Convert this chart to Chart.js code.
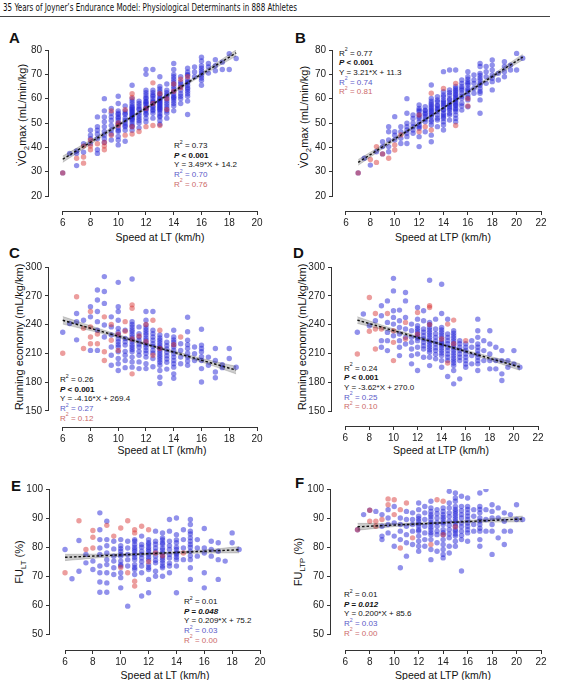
<!DOCTYPE html>
<html>
<head>
<meta charset="utf-8">
<script src="https://cdn.jsdelivr.net/npm/chart.js@4.4.1/dist/chart.umd.min.js"></script>
<style>
  body { margin: 0; background: #fff; }
  #page { position: relative; width: 565px; height: 680px; overflow: hidden; font-family: 'Liberation Sans', Arial, sans-serif; color: #111; }
  canvas { position: absolute; }
  #title { position: absolute; left: 3px; top: 2px; font-family: 'Liberation Sans Narrow', 'DejaVu Sans Condensed', sans-serif; font-size: 10px; white-space: nowrap; transform-origin: 0 0; }
  #rule { position: absolute; left: 0; top: 16px; width: 550px; height: 1px; background: #444; }
  .lbl { position: absolute; font-weight: bold; font-size: 15px; line-height: 15px; }
  .yt { position: absolute; font-size: 11px; white-space: nowrap; transform: translate(-50%, -50%) rotate(-90deg); }
  .xt { position: absolute; font-size: 10.5px; white-space: nowrap; transform: translate(-50%, -50%); }
  .st { position: absolute; font-size: 8px; line-height: 9.7px; white-space: nowrap; }
  .st .b { color: #5a5ac8; }
  .st .r { color: #cc6a6a; }
  sup { font-size: 65%; line-height: 0; position: relative; top: -0.15em; vertical-align: super; }
  sub { font-size: 70%; line-height: 0; }
</style>
</head>
<body>
<div id="page">
  <div id="title">35 Years of Joyner’s Endurance Model: Physiological Determinants in 888 Athletes</div>
  <div id="rule"></div>

  <div class="lbl" style="left:9px;top:30px">A</div>
  <div class="lbl" style="left:295px;top:30px">B</div>
  <div class="lbl" style="left:9px;top:245px">C</div>
  <div class="lbl" style="left:293px;top:245px">D</div>
  <div class="lbl" style="left:11px;top:478px">E</div>
  <div class="lbl" style="left:295px;top:475px">F</div>

  <div class="yt" style="left:22px;top:115px">V&#775;O<sub>2</sub>max (mL/min/kg)</div>
  <div class="yt" style="left:304px;top:117px">V&#775;O<sub>2</sub>max (mL/min/kg)</div>
  <div class="yt" style="left:19px;top:337px">Running economy (mL/kg/km)</div>
  <div class="yt" style="left:302px;top:337px">Running economy (mL/kg/km)</div>
  <div class="yt" style="left:19px;top:562px">FU<sub>LT</sub> (%)</div>
  <div class="yt" style="left:298px;top:562px">FU<sub>LTP</sub> (%)</div>

  <div class="xt" style="left:160px;top:237px">Speed at LT (km/h)</div>
  <div class="xt" style="left:443px;top:237px">Speed at LTP (km/h)</div>
  <div class="xt" style="left:162px;top:450px">Speed at LT (km/h)</div>
  <div class="xt" style="left:441px;top:450px">Speed at LTP (km/h)</div>
  <div class="xt" style="left:165px;top:675px">Speed at LT (km/h)</div>
  <div class="xt" style="left:443px;top:675px">Speed at LTP (km/h)</div>

  <div class="st" style="left:174px;top:141px">R<sup>2</sup> = 0.73<br><b><i>P</i> &lt; 0.001</b><br>Y = 3.49*X + 14.2<br><span class="b">R<sup>2</sup> = 0.70</span><br><span class="r">R<sup>2</sup> = 0.76</span></div>
  <div class="st" style="left:339px;top:48.5px">R<sup>2</sup> = 0.77<br><b><i>P</i> &lt; 0.001</b><br>Y = 3.21*X + 11.3<br><span class="b">R<sup>2</sup> = 0.74</span><br><span class="r">R<sup>2</sup> = 0.81</span></div>
  <div class="st" style="left:60px;top:375px">R<sup>2</sup> = 0.26<br><b><i>P</i> &lt; 0.001</b><br>Y = -4.16*X + 269.4<br><span class="b">R<sup>2</sup> = 0.27</span><br><span class="r">R<sup>2</sup> = 0.12</span></div>
  <div class="st" style="left:344px;top:363.5px">R<sup>2</sup> = 0.24<br><b><i>P</i> &lt; 0.001</b><br>Y = -3.62*X + 270.0<br><span class="b">R<sup>2</sup> = 0.25</span><br><span class="r">R<sup>2</sup> = 0.10</span></div>
  <div class="st" style="left:184px;top:597px">R<sup>2</sup> = 0.01<br><b><i>P = 0.048</i></b><br>Y = 0.209*X + 75.2<br><span class="b">R<sup>2</sup> = 0.03</span><br><span class="r">R<sup>2</sup> = 0.00</span></div>
  <div class="st" style="left:344px;top:590px">R<sup>2</sup> = 0.01<br><b><i>P = 0.012</i></b><br>Y = 0.200*X + 85.6<br><span class="b">R<sup>2</sup> = 0.03</span><br><span class="r">R<sup>2</sup> = 0.00</span></div>
</div>

<script>
// tick values
const xTicksLT = [6, 8, 10, 12, 14, 16, 18, 20];
const xTicksLTP = [6, 8, 10, 12, 14, 16, 18, 20, 22];
const yTicksVO2 = [20, 30, 40, 50, 60, 70, 80];
const yTicksRE = [150, 180, 210, 240, 270, 300];
const yTicksFU = [50, 60, 70, 80, 90, 100];

// scatter data as [speed, [values...]] columns
// (dense columns carry extra readings for the overlapping dark cores)
const aBlue = [[6,[29.5]],[6.5,[37.5]],[7,[32.5,37.5,38.5]],[7.5,[38,41.5]],[8,[41.5,43.5,45,47]],
  [8.5,[37.5,39,43.5,45.5,47,48.5,52.5]],[9,[42,43.5,45,46.5,48.5,50.5,52.5,55,60]],
  [9.5,[43,45.5,47,49,51,52.5,54,56]],[10,[41,43,44.5,46.5,47,48,49.5,50,51,52,52.5,53.5,54,55,58,61]],
  [10.5,[42.5,47,48.5,49,50,51,52,53.5,54,55,57]],
  [11,[47,48.5,49,50,51,51.5,52,52.5,53,53.5,54,54.5,55,55.5,56,56.5,57,58,59,60,65.5]],
  [11.5,[48,50,51,52,53,54,55.5,56,57,58,59]],
  [12,[50.5,52,53.5,54,55,55.5,56,56.5,57.5,58,58.5,59,60,60.5,61.5,62.5,63.5,70,72]],
  [12.5,[52,54,55,55.5,56.5,57,58,58.5,59,60,61,61.5,62.5,63.5,72]],
  [13,[49.5,51,52.5,53,54,55,55.5,56,56.5,57,57.5,58,58.5,59,59.5,60,60.5,61.5,62,63,64,65,69]],
  [13.5,[52,54,55,56,57,58,59,60,61,61.5,62.5,63.5,66]],
  [14,[55,57,58,59,60,60.5,61,62,63,64,65,66,67,68,69,70,72,74.5]],
  [14.5,[58,60,61,62,63.5,65,66,67,69]],[15,[53.5,59,61,62,63,64,64.5,65.5,66.5,67,68,69.5,70,71,72.5]],
  [15.5,[69,71,73]],[16,[65.5,67.5,68.5,69.5,70.5,71.5,72.5,73.5,75.5,77]],[16.5,[70.5,73,74.5]],
  [17,[71.5,73.5,76]],[17.5,[75,72]],[18,[78.5,72]],[18.5,[76.5]]];
const aRed = [[6,[29.5]],[7,[35.5]],[7.5,[33.5,36,40.5]],[8,[39,40.5,43]],[8.5,[41.5]],[9,[39,40.5,42]],
  [9.5,[45,55]],[10,[49,50]],[10.5,[45,55.5]],[11,[45.5,48.5,60.5,62]],[11.5,[46.5]],[12,[48.5,56]],
  [12.5,[49,58,66.5]],[13,[49,62]],[13.5,[55.5,60]],[14,[63,66]],[14.5,[64.5,68]],[15,[69]]];

const bBlue = [[7,[29.5]],[7.5,[35.5]],[8,[32.7]],[8.5,[38.2]],[9,[37.3,40.3,42.3]],[9.5,[38.2,40.3,43,46.4,48.5]],
  [10,[43,45,46.4,52.6]],[10.5,[41.6,43.7,46.4,48.5]],[11,[41.6,44.4,45.8,47.1,48.5,49.9,54,60]],
  [11.5,[45.8,47.1,48.5,49.9,51.9,53.3]],[12,[40.3,44.4,47.8,48.5,49.2,50.5,51.9,52.6,53.5,54.7,55.3,56,57.4]],
  [12.5,[46.4,50.5,51.5,52.6,53.5,54,55,55.3,56.7]],
  [13,[42.3,45,49.2,50.5,51.2,52.6,53.3,54,54.7,55.3,56,56.7,57.4,58.1,59,60.1,65.6]],
  [13.5,[48.5,51.2,52,53.3,54.7,55.5,56,57,57.4,58.8,59.5,60.8]],
  [14,[47.1,49.2,50.5,51.9,52.6,53.3,54,55.3,55.5,56.7,57.4,58.1,58.8,59.5,60.8,61.5,62.9,71.1]],
  [14.5,[51.2,53.3,54,55.3,56,56.7,57.5,58.1,59.5,60,61.5,62.5,63.6,71.8]],
  [15,[50.5,51.9,53.3,54.7,55.5,56,57,57.4,58,58.8,59.5,60.1,60.8,61.5,62,62.9,63.5,64.2,65,71.8]],
  [15.5,[55.3,57,58.1,60.1,61,62.2,63.5,64.2,65,66.3,67.7]],[16,[56.7,59.5,60.5,61.5,62.9,63.6,64.2,65.6,66.3,67,68,69,71.1]],
  [16.5,[62.2,64.2,66.3,67.7,69.7]],[17,[54,59.5,62.2,63,64.2,65.5,66.3,67.5,68.4,69.5,70.4,73.2,74.5]],[17.5,[66.3,69,71.1,73.2]],
  [18,[63.6,67,68.4,69.7,71.8,73.8,75.9]],[18.5,[67.7,70.4]],[19,[69,71.1,73.2,75.2]],[19.5,[71.8,73.8]],
  [20,[71.8,78.6]],[20.5,[76.6]]];
const bRed = [[7,[29.5]],[8,[35]],[8.5,[33.8,40.3]],[9,[37.3]],[9.5,[35.5]],[10,[38.9,41]],[10.5,[45.1]],
  [12,[46.4,53.3]],[12.5,[48.5]],[13,[47.1,62.2]],[14,[64.2]],[15,[49,66.3]],[16,[57,60]]];

const cBlue = [[6,[232]],[6.5,[241]],[7,[251.5,243,224]],[7.5,[244.5]],[8,[258.5,248,213]],
  [8.5,[276,265.5,253.5,243,234,213]],[9,[290,274.5,262,239.5,227]],[9.5,[248,237.5,229,216.5,208,197.5]],
  [10,[284,258.5,253.5,244.5,236,232,229,225,222,219,216.5,211.5,204.5,199,192]],[10.5,[234,225.5,222,218.5,212,208,202.5,195]],
  [11,[287.5,243,240,237.5,234.5,232.5,229.5,227,224.5,222,219,216.5,214,211.5,206,201,195.5]],
  [11.5,[237.5,230.5,227,223.5,219.5,216.5,212,208,201,194]],
  [12,[253.5,244.5,239.5,236.5,234,231.5,229,226,223.5,221,218.5,216,213,210,206,199,194]],
  [12.5,[253.5,234,230.5,227,223.5,220,217,213,210,204.5,196]],
  [13,[229,226,223.5,221,218.5,216,215.5,213,210.5,208,205.5,203,200.5,197.5,192,185,178.5]],
  [13.5,[228.5,221.5,218,214.5,211,207.5,204,200.5,193.5]],
  [14,[234,227,224,221.5,219,216.5,213,209.5,206,202.5,199,195.5,188.5,184]],[14.5,[220,213,206,199]],
  [15,[247.5,232.5,223.5,219,215,210,206,202,197.5]],[15.5,[216.5,209.5,202.5]],[16,[235,218.5,215,211.5,206.5,202.5,194,180]],
  [16.5,[206,197.5]],[17,[215,202.5,190.5,184.5]],[17.5,[198,195]],[18,[215,204.5]],[18.5,[195.5]]];
const cRed = [[6,[210]],[7,[269]],[7.5,[236,215]],[8,[253.5,237.5,227,220]],[8.5,[220,230]],[9,[248,211.5,202.5]],
  [9.5,[223.5,240]],[10,[213,230]],[10.5,[243,233]],[11,[260.5,257,225,188.5]],[11.5,[228]],[12,[222,240]],
  [12.5,[244.5,208]],[13,[234,215]],[14,[219]],[14.5,[227]]];

const dBlue = [[7,[232]],[7.5,[251]],[8,[238.8]],[8.5,[244]],[9,[259.6,249.2,223.3,216.4]],
  [9.5,[264.7,242.3,231.9,223.3,212.9]],[10,[288.2,275.1,254.4,247.5,240.5,228.4]],
  [10.5,[255.1,244,237.1,230.2,223.3,216.4,207.7]],[11,[273.4,264.7,247.5,235.4,226.7,219.8]],
  [11.5,[240.5,233.6,226.7,221.5,214.6,207.7,199.1]],
  [12,[257.8,245.7,238.8,236,233.6,231,228.4,226,223.3,216.4,209.4,192.2]],
  [12.5,[254.4,244,235.4,232,228.4,225,221.5,218,214.6,206]],
  [13,[286.2,242.3,240,237.1,234.5,231.9,229.3,226.7,224,221.5,219,216.4,213.8,211.2,206,197.3]],
  [13.5,[245.7,235.4,230.5,226.7,223,219.8,216,212.9,209,204.3]],
  [14,[282,251.6,237.1,234.5,231.9,229.3,226.7,224,221.5,220,218.1,215.5,212.9,210.3,207.7,202.5,195.6]],
  [14.5,[245.7,230.2,226.7,223.3,220,216.4,213,209.4,206,202.5,185.9]],
  [15,[233.6,231,228.4,225.8,223.3,220.6,218.1,215.5,212.9,210.3,207.7,205,202.5,200,197.3,192.2,178.3]],
  [15.5,[223.3,220,216.4,213,209.4,206,202.5,183.5]],[16,[220,216.4,213,209.4,206,202.5,199,195.6]],[16.5,[223.3,216.4,207.7,199.1]],
  [17,[245.7,233.6,226.7,219.8,216.4,212.9,209.4,206,202.5,199.1,192.2]],[17.5,[223.3,212.9,202.5]],
  [18,[233.6,219.8,209.4,202.5,193.9]],[18.5,[216.4,202.5,193.9]],[19,[212.9,202.5,188.7,181.8]],
  [19.5,[202.5,195.6]],[20,[212.9,199.1]],[20.5,[195.6]]];
const dRed = [[7,[209.4]],[8,[268.2,233]],[8.5,[251.6,235.4,214.6]],[9,[235.4]],[9.5,[251.6]],[10,[233.6,221.5,202.5]],
  [11,[242.3,225]],[12,[252.6,230]],[13,[259.6,257.8,240]],[14,[225]],[14.5,[240.5,200]],[15,[244.7,220]],[16,[223.3]]];

const eBlue = [[6,[79.2]],[6.5,[69.1]],[7,[82.3,71.7]],[7.5,[77.5,74.6]],[8,[75.2,72.3]],
  [8.5,[91.8,86,82.6,79.7,77.5,73.5,71.2,68,64.5]],[9,[88.9,82.6,80.5,78,75.7,74,71.2,67.7,64.5]],
  [9.5,[82,79.4,76.9,75.2,72.9,70.6]],[10,[82.6,80.5,79.5,78.6,77.5,76.9,75.2,74,73.5,71.2,69.5,66]],
  [10.5,[82,79.7,77.5,75.7,73.5,59.7]],[11,[82.6,82,80.9,80,79.2,78.5,77.5,76.5,75.7,74,73,72.3,70.6]],
  [11.5,[83.8,80.9,80,78.6,77.5,76.3,75,73.5,71.2,63.2]],
  [12,[82.6,81.5,80.9,80,79.2,78.5,77.5,76.5,75.7,74,73,72.3,68.9,64.3]],
  [12.5,[85.5,82,81,79.7,78.5,76.9,75.5,74.6,71.7,70]],
  [13,[84.9,83.2,82.5,81.5,81,79.7,79,78,77,76.3,75.5,74.6,73.5,72.9,70]],
  [13.5,[89.5,85.5,82,80.5,79.2,77.5,76.3,74.5,73.5,71.2]],
  [14,[90,84.3,82.5,81.5,80,79.2,78,77.5,76.5,75.7,73.5,64.3]],
  [14.5,[86,82.6,79.7,75.7]],[15,[89.5,87.8,85.5,84.5,83.2,82,80.9,80,78.6,77,75.7,72.9,68.9]],[15.5,[82.6,79.7,76.9]],
  [16,[86.4,79.7,78,71.2,66]],[16.5,[82,79.2,76.9]],[17,[81.5,78.6,75.7,68.9]],[17.5,[75.2]],
  [18,[84.9,81.5]],[18.5,[79.2]]];
const eRed = [[6,[71.2]],[7,[89.1]],[7.5,[79.2]],[8,[85.7,83.4,79.7]],[9,[87.5]],[9.5,[83.8]],[10,[86.6,73]],
  [10.5,[89.1,71.2]],[11,[86,84.9,68.3,66.6]],[11.5,[87.2]],[12,[86,75]],[12.5,[78]],[13,[77]],[14.5,[78]]];

const fBlue = [[7,[86]],[7.5,[91.2]],[8,[92.7]],[8.5,[92.3]],[9,[91.2,87.2,83.8,82.6]],[9.5,[92.9,90,87.8,84.9]],
  [10,[94,88.3,83.8,80.3]],[10.5,[90,87.8,85.5,82.6,72.9]],[11,[92.3,89.5,87.2,84.3,81.5,76.9]],
  [11.5,[91.8,89.5,87.8,85.5,80.9]],[12,[95.2,92.9,90.6,89.8,88.9,88,87.2,86,85.5,83.8,82,80.3,78.6]],
  [12.5,[94,91.8,89.5,87.2,84.9,82.6,80.3]],
  [13,[95.8,93.5,92.3,91.2,90.5,89.5,88.5,87.8,86.8,86,85,84.3,82.6,79.2,75.7]],
  [13.5,[92.9,91.5,90,88.5,87.2,85.5,84.3,81.5,78.6]],
  [14,[93.5,92.3,91.2,90.3,89.5,88.5,87.8,86,85,84.3,82.6,80.9,79.2,77.5,76.3]],
  [14.5,[99.2,95.2,93.5,91.8,90.5,88.9,87.5,86,84.5,83.2,80.3,78]],
  [15,[98.6,96.9,95.8,94,93,92.3,91.5,90.6,89.8,88.9,88,87.2,86,85.5,84.5,83.8,82,80.3]],
  [15.5,[97.5,94,92.5,91.2,90,88.3,87,85.5,84,82.6,71.8]],[16,[96.9,94,93,91.8,90.6,89.5,88.3,87.2,86,84.9,82]],
  [16.5,[92.9,90.6,87.8,85.5]],[17,[98.6,94,93,91.8,90,89,87.8,86.5,85.5,82.6,80.3]],[17.5,[99.8,92.9,89.5,85.5]],
  [18,[94.6,92.3,90,87.8,85.5,77.5]],[18.5,[93.5,90,83.2]],[19,[91.8,88.9,85.5,80.9]],[19.5,[91.2,85.5]],
  [20,[94.6,89.5]],[20.5,[89.5]]];
const fRed = [[7,[86]],[8,[92.7,88.9]],[8.5,[88.9,87.2]],[9,[89.5]],[9.5,[96.6,94.6]],[10,[96.3,91.2]],
  [10.5,[92.9,79.7]],[11,[95.2]],[11.5,[83.2]],[13,[80.9]],[13.5,[96.3]],[14,[95.8,84.3]],[15,[87]]];

// fitted lines [x, y] and 95% bands [x, lower, upper]
const lineA = [[6, 35.1], [18.5, 78.8]];
const lineB = [[7, 33.8], [20.5, 77.1]];
const lineC = [[6, 244.4], [18.5, 192.4]];
const lineD = [[7, 244.7], [20.5, 195.8]];
const lineE = [[6, 76.5], [18.5, 79.1]];
const lineF = [[7, 87.0], [20.5, 89.7]];
const bandA = [[6, 33.8, 36.4], [9, 44.9, 46.3], [12.5, 57.35, 58.25], [16, 69.3, 70.7], [18.5, 77.5, 80.1]];
const bandB = [[7, 32.6, 35.0], [10, 42.75, 44.05], [14, 55.8, 56.6], [17.5, 66.85, 68.15], [20.5, 75.9, 78.3]];
const bandC = [[6, 240.4, 248.4], [9, 230, 234], [12.5, 216.2, 218.6], [16, 200.8, 204.8], [18.5, 188.4, 196.4]];
const bandD = [[7, 241.2, 248.2], [10, 232, 235.6], [14, 218.2, 220.4], [17.5, 204.9, 208.5], [20.5, 192.3, 199.3]];
const bandE = [[6, 75.35, 77.55], [9, 76.55, 77.65], [12.5, 77.45, 78.15], [16, 77.95, 79.05], [18.5, 78.0, 80.2]];
const bandF = [[7, 85.8, 88.2], [10, 87.05, 88.15], [14, 88.1, 88.7], [17.5, 88.55, 89.65], [20.5, 88.7, 90.7]];

const BLUE = 'rgba(35, 35, 215, 0.5)';
const RED = 'rgba(215, 50, 50, 0.48)';

Chart.defaults.font.family = "'Liberation Sans', Arial, sans-serif";
Chart.defaults.font.size = 10;
Chart.defaults.color = '#222';

// draws the short axis lines (offset, Prism style)
const axisLines = {
  id: 'axisLines',
  afterDraw(chart, args, opts) {
    const { ctx, chartArea, scales: { x, y } } = chart;
    ctx.save();
    ctx.strokeStyle = '#333';
    ctx.lineWidth = 1;
    ctx.beginPath();
    const lx = Math.round(chartArea.left) - 0.5;
    ctx.moveTo(lx, y.getPixelForValue(opts.yFrom));
    ctx.lineTo(lx, y.getPixelForValue(opts.yTo));
    const by = Math.round(chartArea.bottom) + 0.5;
    ctx.moveTo(x.getPixelForValue(opts.xFrom), by);
    ctx.lineTo(x.getPixelForValue(opts.xTo), by);
    ctx.stroke();
    ctx.restore();
  }
};

function toPoints(cols) {
  const pts = [];
  cols.forEach(([x, ys]) => ys.forEach(y => pts.push({ x: x, y: y })));
  return pts;
}

const panels = [
  { blue: aBlue, red: aRed, line: lineA, band: bandA, xt: xTicksLT, yt: yTicksVO2, axisX: 49, x0: 62.7, x1: 256.7, yTop: 50, yBot: 196, axisY: 211 },
  { blue: bBlue, red: bRed, line: lineB, band: bandB, xt: xTicksLTP, yt: yTicksVO2, axisX: 332.7, x0: 345.7, x1: 541, yTop: 50, yBot: 196, axisY: 211 },
  { blue: cBlue, red: cRed, line: lineC, band: bandC, xt: xTicksLT, yt: yTicksRE, axisX: 49, x0: 62.7, x1: 256.7, yTop: 266.8, yBot: 410.3, axisY: 426.5 },
  { blue: dBlue, red: dRed, line: lineD, band: bandD, xt: xTicksLTP, yt: yTicksRE, axisX: 331.7, x0: 345, x1: 538, yTop: 266.5, yBot: 410.5, axisY: 425.5 },
  { blue: eBlue, red: eRed, line: lineE, band: bandE, xt: xTicksLT, yt: yTicksFU, axisX: 50, x0: 65, x1: 259.5, yTop: 489.3, yBot: 635, axisY: 650.7 },
  { blue: fBlue, red: fRed, line: lineF, band: bandF, xt: xTicksLTP, yt: yTicksFU, axisX: 330.7, x0: 345, x1: 541, yTop: 489.3, yBot: 635, axisY: 650.7 }
];

const page = document.getElementById('page');

panels.forEach(p => {
  const left = p.axisX - 49;
  const top = p.yTop - 10;
  const width = p.x1 + 14 - left;
  const height = p.axisY + 17 - top;

  const canvas = document.createElement('canvas');
  canvas.width = Math.round(width);
  canvas.height = Math.round(height);
  canvas.style.left = left + 'px';
  canvas.style.top = top + 'px';
  canvas.style.width = Math.round(width) + 'px';
  canvas.style.height = Math.round(height) + 'px';
  page.appendChild(canvas);

  const xt0 = p.xt[0], xt1 = p.xt[p.xt.length - 1];
  const yt0 = p.yt[0], yt1 = p.yt[p.yt.length - 1];
  const xMin = xt0 - (p.x0 - p.axisX) * (xt1 - xt0) / (p.x1 - p.x0);
  const yMin = yt0 - (p.axisY - p.yBot) * (yt1 - yt0) / (p.yBot - p.yTop);

  new Chart(canvas, {
    type: 'scatter',
    data: {
      datasets: [
        {
          type: 'line',
          data: p.line.map(([x, y]) => ({ x, y })),
          borderColor: '#111',
          borderWidth: 1.4,
          borderDash: [2.5, 2],
          pointRadius: 0,
          fill: false,
          order: 0
        },
        {
          type: 'line',
          data: p.band.map(([x, lo]) => ({ x, y: lo })),
          borderColor: 'rgba(0,0,0,0.25)',
          borderWidth: 0.6,
          pointRadius: 0,
          tension: 0.3,
          fill: false,
          order: 1
        },
        {
          type: 'line',
          data: p.band.map(([x, , hi]) => ({ x, y: hi })),
          borderColor: 'rgba(0,0,0,0.25)',
          borderWidth: 0.6,
          backgroundColor: 'rgba(0,0,0,0.2)',
          pointRadius: 0,
          tension: 0.3,
          fill: '-1',
          order: 1
        },
        {
          data: toPoints(p.red),
          backgroundColor: RED,
          pointRadius: 2.7,
          pointHoverRadius: 2.7,
          borderWidth: 0,
          order: 2
        },
        {
          data: toPoints(p.blue),
          backgroundColor: BLUE,
          pointRadius: 2.7,
          pointHoverRadius: 2.7,
          borderWidth: 0,
          order: 3
        }
      ]
    },
    options: {
      responsive: false,
      animation: false,
      events: [],
      layout: { padding: { top: 10, right: 14, left: 0, bottom: 0 } },
      plugins: {
        legend: { display: false },
        tooltip: { enabled: false },
        axisLines: { xFrom: xt0, xTo: xt1, yFrom: yt0, yTo: yt1 }
      },
      scales: {
        x: {
          type: 'linear',
          min: xMin,
          max: xt1,
          afterBuildTicks: s => { s.ticks = p.xt.map(v => ({ value: v })); },
          afterFit: s => { s.height = 17; },
          border: { display: false },
          grid: { drawOnChartArea: false, drawTicks: true, tickLength: 4, color: '#333' },
          ticks: { padding: 2, maxRotation: 0, autoSkip: false }
        },
        y: {
          type: 'linear',
          min: yMin,
          max: yt1,
          afterBuildTicks: s => { s.ticks = p.yt.map(v => ({ value: v })); },
          afterFit: s => { s.width = 49; },
          border: { display: false },
          grid: { drawOnChartArea: false, drawTicks: true, tickLength: 4, color: '#333' },
          ticks: { padding: 3, autoSkip: false }
        }
      }
    },
    plugins: [axisLines]
  });
});

// squeeze the header to the width it has in the figure
const title = document.getElementById('title');
const tw = title.getBoundingClientRect().width;
title.style.transform = 'scaleX(' + (294 / tw) + ')';
</script>
</body>
</html>
